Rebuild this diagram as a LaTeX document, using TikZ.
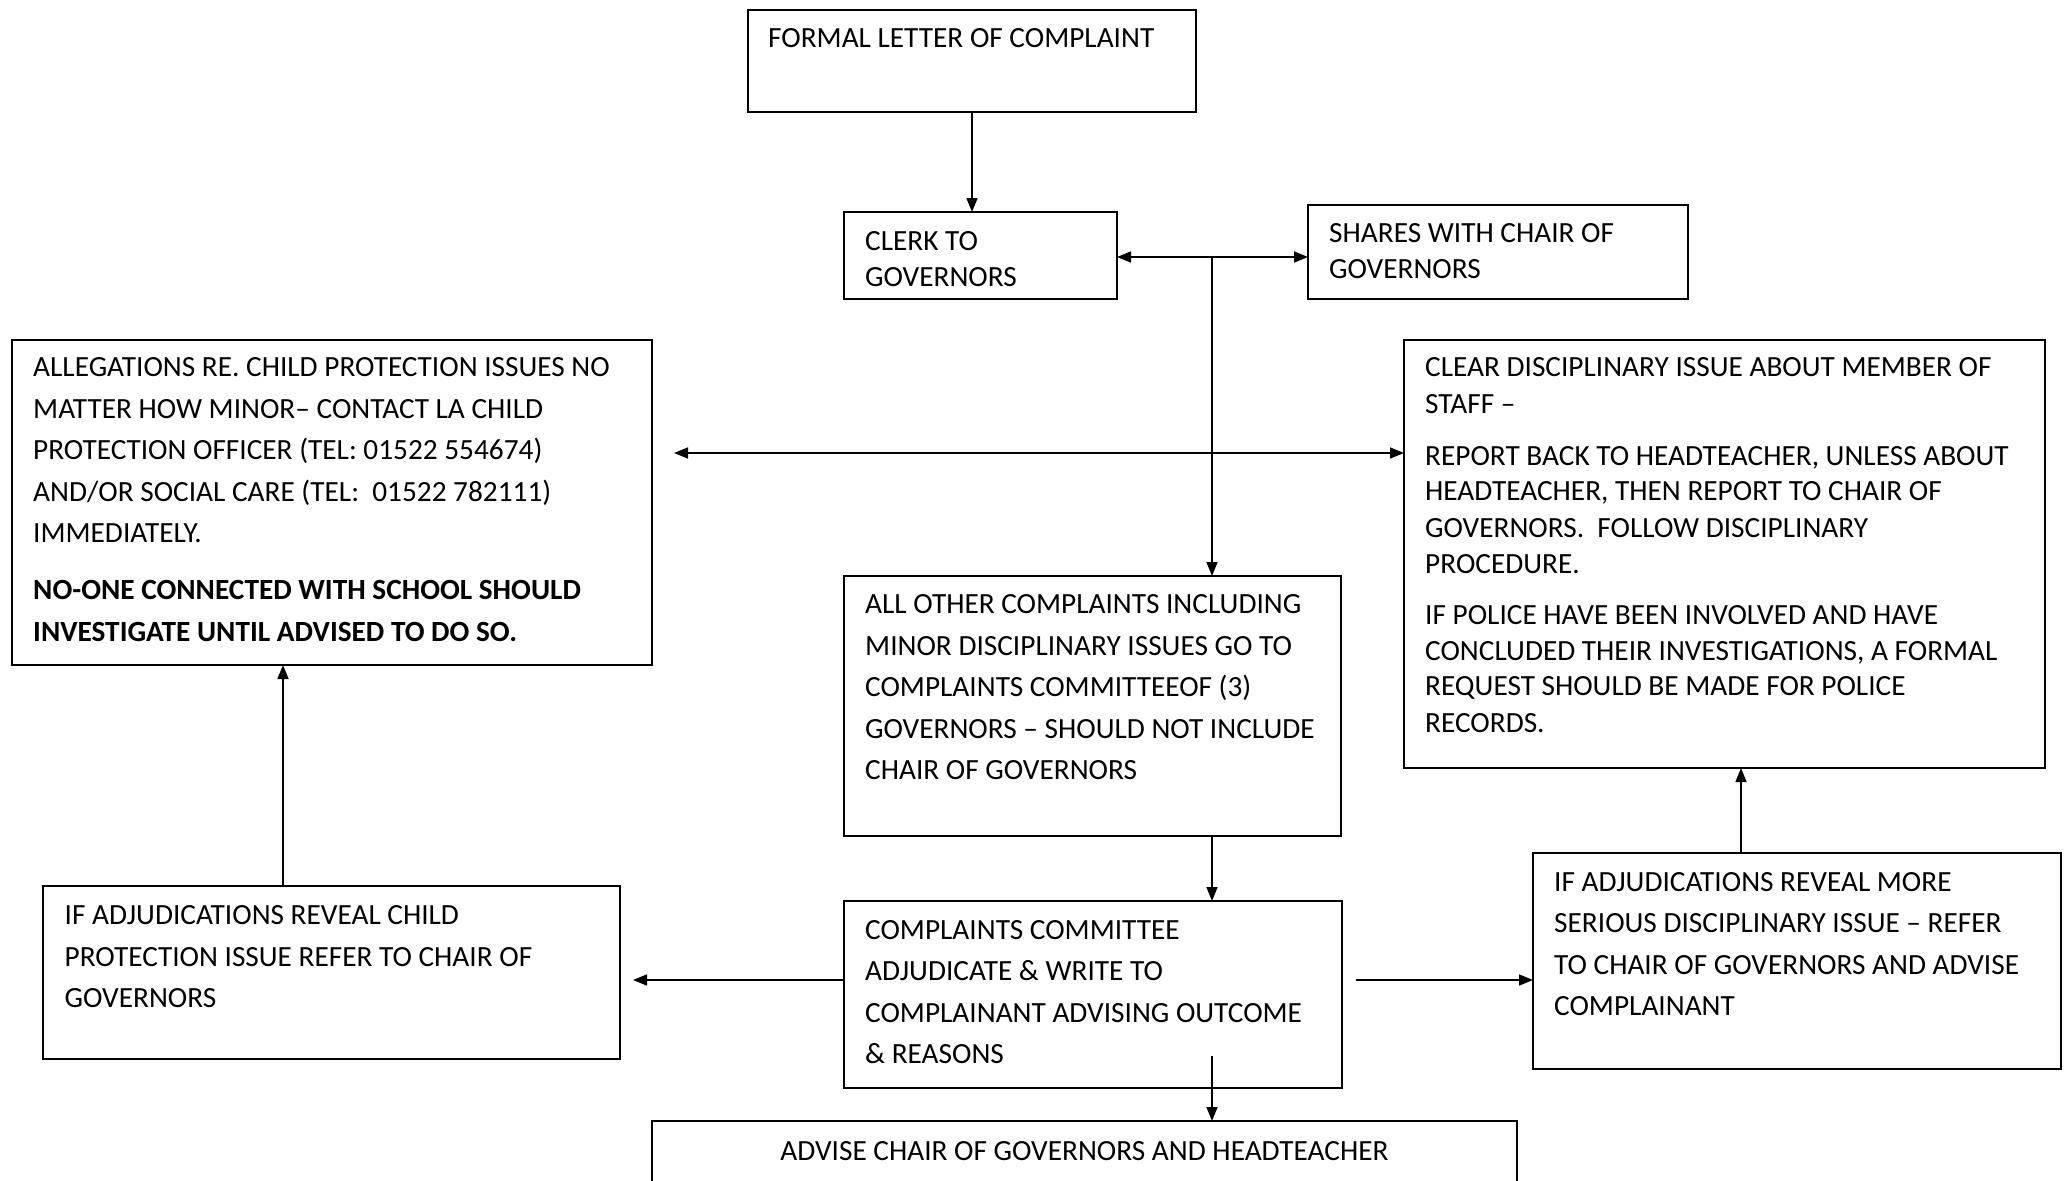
\documentclass[tikz,border=0pt]{standalone}
\usepackage{fontspec}
\setmainfont{Carlito}
\usetikzlibrary{arrows.meta,calc}
\newcommand{\txtline}[4]{\node[txt] (#1) at (#2,#3) {#4};}
\newcommand{\bline}[4]{\node[txt,font=\fontsize{29.3}{36}\selectfont\bfseries] (#1) at (#2,#3) {#4};}
\begin{document}
\begin{tikzpicture}[x=1pt,y=-1pt,
  box/.style={draw, line width=1.6pt, inner sep=0pt, outer sep=0pt, anchor=north west},
  txt/.style={anchor=base west, inner sep=0pt, font=\fontsize{29.3}{36}\selectfont},
  ctxt/.style={anchor=base, inner sep=0pt, font=\fontsize{29.3}{36}\selectfont},
  arr/.style={line width=1.6pt, -{Triangle[length=14pt,width=11pt]}},
  darr/.style={line width=1.6pt, {Triangle[length=14pt,width=11pt]}-{Triangle[length=14pt,width=11pt]}},
  ln/.style={line width=1.6pt}]
\useasboundingbox (0,0) rectangle (2065,1181);
\clip (0,0) rectangle (2065,1181);
% boxes
\node[box, minimum width=448pt, minimum height=102pt] (formal) at (748,10) {};
\node[box, minimum width=273pt, minimum height=87pt] (clerk) at (844,212) {};
\node[box, minimum width=380pt, minimum height=94pt] (shares) at (1308,205) {};
\node[box, minimum width=640pt, minimum height=325pt] (alleg) at (12,340) {};
\node[box, minimum width=641pt, minimum height=428pt] (clear) at (1404,340) {};
\node[box, minimum width=497pt, minimum height=260pt] (allother) at (844,576) {};
\node[box, minimum width=498pt, minimum height=187pt] (committee) at (844,901) {};
\node[box, minimum width=577pt, minimum height=173pt] (childbox) at (43,886) {};
\node[box, minimum width=528pt, minimum height=216pt] (serious) at (1533,853) {};
\node[box, minimum width=865pt, minimum height=120pt] (advise) at (652,1121) {};
% texts
\txtline{f1}{768}{47.6}{FORMAL LETTER OF COMPLAINT}
\txtline{c1}{865}{250.4}{CLERK TO}
\txtline{c2}{865}{286}{GOVERNORS}
\txtline{s1}{1329}{242.5}{SHARES WITH CHAIR OF}
\txtline{s2}{1329}{278}{GOVERNORS}
\txtline{a1}{33}{376.8}{ALLEGATIONS RE. CHILD PROTECTION ISSUES NO}
\txtline{a2}{33}{418.3}{MATTER HOW MINOR– CONTACT LA CHILD}
\txtline{a3}{33}{459.8}{PROTECTION OFFICER (TEL: 01522 554674)}
\txtline{a4}{33}{501.3}{AND/OR SOCIAL CARE (TEL:\ \ 01522 782111)}
\txtline{a5}{33}{542.8}{IMMEDIATELY.}
\bline{a6}{33}{599.4}{NO-ONE CONNECTED WITH SCHOOL SHOULD}
\bline{a7}{33}{641.6}{INVESTIGATE UNTIL ADVISED TO DO SO.}
\txtline{d1}{1425}{376.8}{CLEAR DISCIPLINARY ISSUE ABOUT MEMBER OF}
\txtline{d2}{1425}{413.7}{STAFF –}
\txtline{d3}{1425}{465.1}{REPORT BACK TO HEADTEACHER, UNLESS ABOUT}
\txtline{d4}{1425}{500.6}{HEADTEACHER, THEN REPORT TO CHAIR OF}
\txtline{d5}{1425}{537.5}{GOVERNORS.\ \ FOLLOW DISCIPLINARY}
\txtline{d6}{1425}{573.1}{PROCEDURE.}
\txtline{d7}{1425}{624.4}{IF POLICE HAVE BEEN INVOLVED AND HAVE}
\txtline{d8}{1425}{660}{CONCLUDED THEIR INVESTIGATIONS, A FORMAL}
\txtline{d9}{1425}{695.6}{REQUEST SHOULD BE MADE FOR POLICE}
\txtline{d10}{1425}{732.4}{RECORDS.}
\txtline{o1}{865}{613.9}{ALL OTHER COMPLAINTS INCLUDING}
\txtline{o2}{865}{655.4}{MINOR DISCIPLINARY ISSUES GO TO}
\txtline{o3}{865}{696.9}{COMPLAINTS COMMITTEEOF (3)}
\txtline{o4}{865}{738.4}{GOVERNORS – SHOULD NOT INCLUDE}
\txtline{o5}{865}{779.9}{CHAIR OF GOVERNORS}
\txtline{m1}{865}{939.2}{COMPLAINTS COMMITTEE}
\txtline{m2}{865}{980}{ADJUDICATE \& WRITE TO}
\txtline{m3}{865}{1022.2}{COMPLAINANT ADVISING OUTCOME}
\txtline{m4}{865}{1063}{\& REASONS}
\txtline{k1}{64.5}{924.7}{IF ADJUDICATIONS REVEAL CHILD}
\txtline{k2}{64.5}{966.9}{PROTECTION ISSUE REFER TO CHAIR OF}
\txtline{k3}{64.5}{1007.7}{GOVERNORS}
\txtline{r1}{1554}{891.8}{IF ADJUDICATIONS REVEAL MORE}
\txtline{r2}{1554}{932.6}{SERIOUS DISCIPLINARY ISSUE – REFER}
\txtline{r3}{1554}{974.8}{TO CHAIR OF GOVERNORS AND ADVISE}
\txtline{r4}{1554}{1015.6}{COMPLAINANT}
\node[ctxt] (v1) at (1084.5,1160.4) {ADVISE CHAIR OF GOVERNORS AND HEADTEACHER};
% connectors
\coordinate (fx) at (972,0);
\draw[arr] (formal.south -| fx) -- (clerk.north -| fx);
\coordinate (j1) at (1212,257);
\draw[darr] (clerk.east |- j1) -- (shares.west |- j1);
\draw[arr] (j1) -- (allother.north -| j1);
\coordinate (j2) at (0,453);
\draw[darr, shorten <=22pt] (alleg.east |- j2) -- (clear.west |- j2);
\draw[arr] (allother.south -| j1) -- (committee.north -| j1);
\coordinate (j3) at (0,980);
\draw[arr, shorten >=13pt] (committee.west |- j3) -- (childbox.east |- j3);
\coordinate (cr) at (1356,980);
\draw[arr] (cr) -- (serious.west |- cr);
\coordinate (cs) at (1212,1056);
\draw[arr] (cs) -- (advise.north -| cs);
\coordinate (x8) at (283,0);
\draw[arr] (childbox.north -| x8) -- (alleg.south -| x8);
\coordinate (x9) at (1741,0);
\draw[arr] (serious.north -| x9) -- (clear.south -| x9);
\end{tikzpicture}
\end{document}
